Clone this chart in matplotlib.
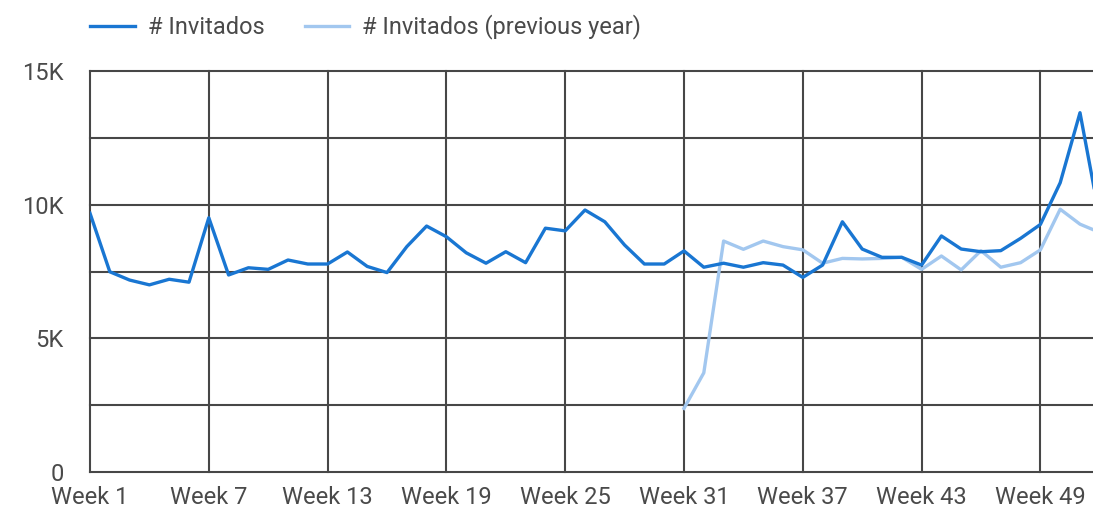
import numpy as np
import matplotlib.pyplot as plt
from matplotlib.ticker import FuncFormatter

plt.rcParams['font.family'] = ['Roboto', 'DejaVu Sans']

# weekly values
weeks = np.arange(1, 53)
invitados = [9680, 7490, 7180, 7000, 7210, 7100, 9510, 7370, 7640, 7580,
             7930, 7780, 7780, 8230, 7690, 7460, 8430, 9200, 8800, 8200,
             7810, 8240, 7830, 9120, 9020, 9800, 9360, 8490, 7780, 7780,
             8270, 7660, 7810, 7660, 7830, 7740, 7280, 7740, 9360, 8340,
             8030, 8030, 7740, 8830, 8340, 8240, 8280, 8740, 9260, 10820,
             13440, 9480]

prev_weeks = np.arange(31, 53)
invitados_prev = [2380, 3710, 8640, 8330, 8640, 8430, 8310, 7810, 7990, 7970,
                  7990, 8030, 7580, 8080, 7560, 8280, 7660, 7830, 8310, 9830,
                  9270, 8960]

yticks = np.arange(0, 15001, 2500)
xticks = np.arange(1, 53, 6)

grid_col = "#474747"
text_col = "#4a4a4a"
fs = 17

fig = plt.figure(figsize=(10.93, 5.16), dpi=100)
ax = fig.add_axes([90/1093, 1 - 472/516, 1 - 90/1093, (472 - 71)/516])

ax.plot(weeks, invitados, color="#1976d2", lw=2.4, label="# Invitados", zorder=3)
ax.plot(prev_weeks, invitados_prev, color="#a2c7ef", lw=2.4,
        label="# Invitados (previous year)", zorder=2)

ax.set_xlim(1, 1 + (1093 - 90) / 19.8)
ax.set_ylim(0, 15000)

ax.set_yticks(yticks)
ax.yaxis.set_major_formatter(FuncFormatter(
    lambda v, p: "" if v % 5000 else ("0" if v == 0 else f"{int(v/1000)}K")))
ax.set_xticks(xticks)
ax.set_xticklabels([f"Week {w}" for w in xticks])

ax.tick_params(axis="both", length=0, labelsize=fs, colors=text_col)
ax.tick_params(axis="y", pad=19)
ax.tick_params(axis="x", pad=10)

ax.grid(True, color=grid_col, lw=1.5)
ax.set_axisbelow(True)
for gl in ax.get_xgridlines() + ax.get_ygridlines():
    gl.set_clip_on(False)
for s in ax.spines.values():
    s.set_visible(False)

ax.legend(loc="center left", bbox_to_anchor=(0.0, (472 - 27) / 401), ncol=2,
          frameon=False, fontsize=fs, labelcolor=text_col, handlelength=1.9,
          handletextpad=0.55, columnspacing=1.7, borderaxespad=0, borderpad=0)

fig.savefig("out.png", dpi=100)
